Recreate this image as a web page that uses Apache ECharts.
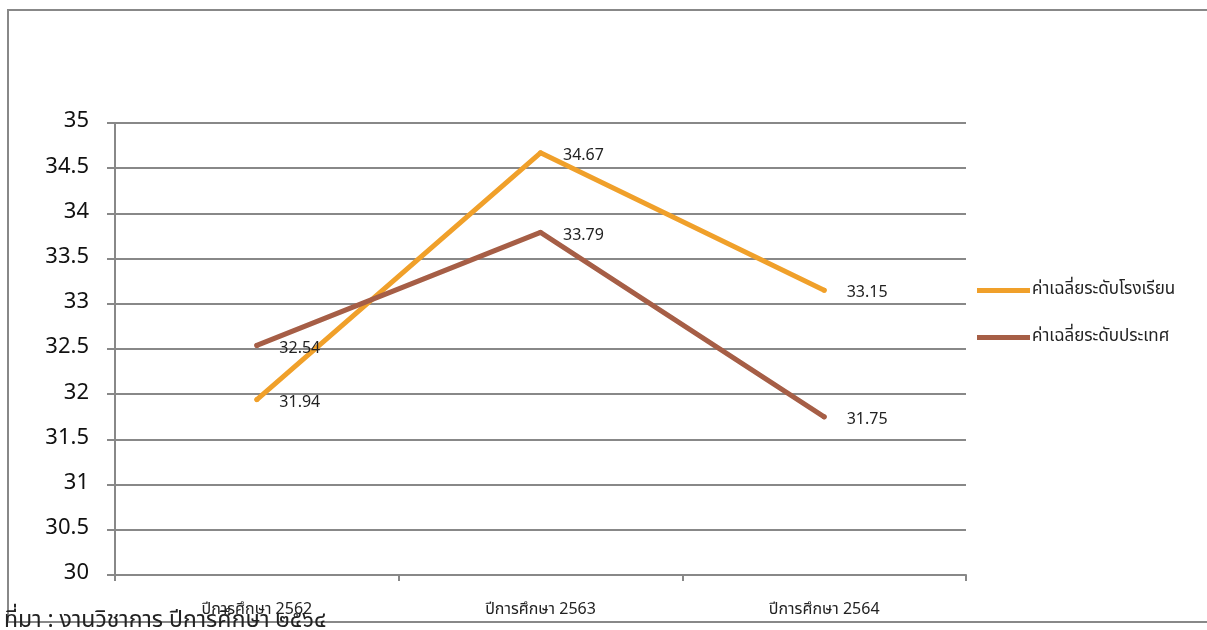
<!DOCTYPE html>
<html lang="th">
  <head>
    <meta charset="UTF-8" />
    <title>ค่าเฉลี่ย</title>
    <script src="https://cdn.jsdelivr.net/npm/echarts@6/dist/echarts.min.js"></script>
    <style>
      html, body { margin: 0; padding: 0; background: #fff; }
      #main { width: 1207px; height: 630px; }
    </style>
  </head>
  <body>
    <div id="main"></div>
    <script type="text/javascript">
      // ข้อมูล
      var categories = ["ปีการศึกษา 2562", "ปีการศึกษา 2563", "ปีการศึกษา 2564"];
      var schoolAvg = [31.94, 34.67, 33.15];
      var nationAvg = [32.54, 33.79, 31.75];
      var seriesNames = ["ค่าเฉลี่ยระดับโรงเรียน", "ค่าเฉลี่ยระดับประเทศ"];
      var sourceText = "ที่มา : งานวิชาการ ปีการศึกษา ๒๕๖๔";

      var font = '"Noto Sans Thai", "Noto Sans", "DejaVu Sans", sans-serif';
      var myChart = echarts.init(document.getElementById("main"));

      function makeSeries(name, data, color) {
        return {
          name: name,
          type: "line",
          data: data,
          symbol: "circle",
          symbolSize: 5,
          showSymbol: true,
          lineStyle: { color: color, width: 5, cap: "round", join: "round" },
          itemStyle: { color: color },
          label: {
            show: true,
            position: "right",
            distance: 20,
            offset: [0, 4],
            color: "#222",
            fontSize: 16,
            fontFamily: font
          },
          z: 3
        };
      }

      var option = {
        animation: false,
        backgroundColor: "#fff",
        grid: { left: 115, right: 241, top: 123, bottom: 55 },
        legend: {
          orient: "vertical",
          left: 977,
          top: 282,
          padding: 0,
          itemGap: 30,
          itemWidth: 53,
          itemHeight: 5,
          icon: "rect",
          textStyle: { fontSize: 17, color: "#222", fontFamily: font, padding: [0, 0, 0, -3] },
          data: seriesNames
        },
        xAxis: {
          type: "category",
          data: categories,
          boundaryGap: true,
          axisLine: { lineStyle: { color: "#888", width: 2 } },
          axisTick: { show: true, length: 6, lineStyle: { color: "#888", width: 2 } },
          axisLabel: { color: "#222", fontSize: 16, fontFamily: font, margin: 28 }
        },
        yAxis: {
          type: "value",
          min: 30,
          max: 35,
          interval: 0.5,
          axisLine: { show: true, lineStyle: { color: "#888", width: 2 } },
          axisTick: { show: true, length: 8, lineStyle: { color: "#888", width: 2 } },
          splitLine: { lineStyle: { color: "#888", width: 2 } },
          axisLabel: { color: "#111", fontSize: 22, fontFamily: font, margin: 26, padding: [6, 0, 0, 0] }
        },
        series: [
          makeSeries(seriesNames[0], schoolAvg, "#F0A02A"),
          makeSeries(seriesNames[1], nationAvg, "#A65E46")
        ],
        graphic: [
          {
            type: "rect",
            shape: { x: 8, y: 10, width: 1230, height: 612 },
            style: { fill: "none", stroke: "#888", lineWidth: 2 },
            silent: true
          },
          {
            type: "text",
            left: 4,
            top: 611,
            style: { text: sourceText, fontSize: 23, fill: "#222", fontFamily: font },
            z: 10
          }
        ]
      };

      myChart.setOption(option);
    </script>
  </body>
</html>
